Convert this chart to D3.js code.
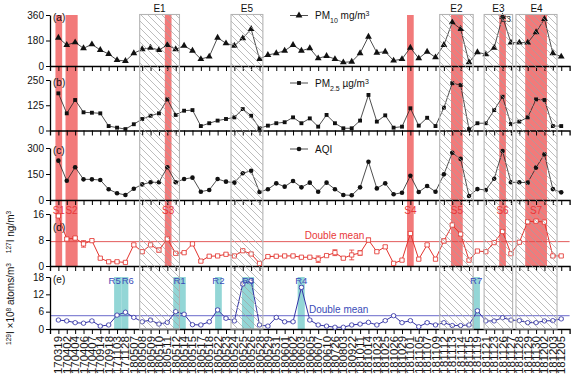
<!doctype html>
<html lang="en">
<head>
  <meta charset="UTF-8">
  <title>PM, AQI and iodine isotopes</title>
  <script src="https://d3js.org/d3.v7.min.js"></script>
  <style>
    body { margin: 0; background: #fff; }
    text { font-family: "Liberation Sans", Arial, sans-serif; }
  </style>
</head>
<body>
  <div id="myDiv"></div>
  <script type="text/javascript">
    // sampling dates (category axis)
    var dates = ["170319","170402","170404","170406","170407","170914","170918","171103","171128","180507",
      "180508","180509","180510","180511","180512","180514","180515","180517","180518","180522",
      "180523","180524","180525","180526","180528","180529","180531","180601","180602","180603",
      "180605","180607","180610","180726","180803","180922","181011","181014","181023","181025",
      "181026","181029","181101","181105","181107","181109","181112","181113","181114","181115",
      "181119","181121","181123","181126","181127","181128","181129","181130","181202","181203","181205"];

    var pm10 = [200,148,167,125,153,113,85,42,35,90,118,129,113,148,118,143,108,49,66,200,
      160,143,195,261,49,78,90,108,148,108,125,54,71,49,26,30,90,207,94,101,
      38,49,129,54,101,61,148,308,261,26,97,83,129,348,165,165,165,238,332,90,66];
    var pm25 = [184,85,151,90,88,85,22,14,7,31,57,73,85,154,77,98,101,22,36,49,
      57,65,106,73,11,24,36,41,65,36,60,19,77,36,11,11,49,176,44,75,
      14,19,110,24,63,22,113,234,225,7,36,36,101,167,32,44,65,154,151,22,22];
    var aqi = [227,111,189,119,119,115,62,39,29,65,90,102,102,189,102,121,129,48,58,121,
      106,100,154,169,46,62,96,77,110,73,100,48,100,62,29,27,73,221,67,96,
      33,42,140,46,81,48,148,273,237,23,63,58,123,283,102,102,100,187,264,63,44];
    var i127 = [15.4,8.3,8.6,6.8,7.8,2.4,1.3,1.3,1.1,6.5,4.4,6.5,4.9,8.3,3.9,4.1,6.8,1.5,3.0,3.1,
      3.6,3.1,4.7,3.7,0.8,2.9,3.0,3.1,3.1,2.7,2.7,2.1,3.2,4.1,2.4,3.4,4.0,8.0,4.4,5.9,
      0.8,1.8,10.0,2.1,6.5,2.1,7.7,12.6,9.8,1.8,4.6,4.4,7.2,10.6,3.8,7.3,13.6,13.8,13.5,3.1,3.1];
    var err127 = [0.4,0.4,0.4,1.0,0.4,0.3,0.3,0.3,0.3,0.4,0.4,0.3,0.6,0.4,0.3,0.3,0.4,0.3,0.3,0.3,
      0.3,0.3,0.4,0.3,0.3,0.3,0.3,0.3,0.3,0.3,0.3,1.0,0.3,0.9,0.3,1.5,0.7,0.6,0.3,0.4,
      0.3,0.3,0.5,0.3,0.4,0.3,0.6,0.5,0.4,0.3,0.3,0.3,0.4,0.5,0.3,0.4,0.4,0.4,0.4,0.3,0.3];
    var i129 = [3.1,2.8,2.2,2.0,2.8,1.0,1.4,4.8,5.8,4.0,2.5,3.1,1.7,2.3,6.0,5.1,1.5,1.4,2.5,6.6,
      3.7,2.8,15.6,16.7,1.4,1.0,4.0,2.5,2.5,14.4,3.1,1.4,1.0,0.6,0.6,1.4,1.7,2.3,1.4,2.9,
      4.6,2.2,2.9,0.8,2.2,1.4,2.2,1.2,1.2,1.4,6.3,2.8,2.8,3.9,3.1,2.9,2.2,2.2,2.8,2.9,3.5];
    var err129 = [0.3,0.3,0.3,0.3,0.3,0.3,0.3,0.3,0.3,0.3,0.3,0.3,0.3,0.3,0.3,0.3,0.3,0.3,0.3,0.4,
      0.3,0.3,0.6,0.6,0.3,0.3,0.3,0.3,0.3,0.5,0.3,0.3,0.3,0.3,0.3,0.3,0.3,0.3,0.3,0.3,
      0.3,0.3,0.3,0.3,0.3,0.3,0.3,0.3,0.3,0.3,0.4,0.3,0.3,0.3,0.3,0.3,0.3,0.3,0.3,0.3,0.3];

    // double mean levels
    var mean127 = 7.5;
    var mean129 = 4.6;

    // event periods (hatched), spikes of 127I (red) and of 129I (cyan), in category index units
    var eLabels = ["E1","E5","E2","E3","E4"];
    var eRanges = [[9.7,14.45],[20.6,24.4],[45.5,49.5],[50.8,54.2],[54.6,59.5]];
    var sLabels = ["S1","S2","S3","S4","S5","S6","S7"];
    var sRanges = [[-0.35,0.45],[0.85,2.3],[12.7,13.5],[41.6,42.4],[46.85,48.25],[52.6,53.4],[55.7,58.3]];
    var rLabels = ["R5","R6","R1","R2","R3","R4","R7"];
    var rRanges = [[6.65,7.5],[7.5,8.35],[13.7,15.2],[18.7,19.5],[21.9,23.35],[28.55,29.4],[49.4,50.3]];

    var svg = d3.select("#myDiv").append("svg")
      .attr("width", 586)
      .attr("height", 374);

    // hatch pattern for the event boxes
    svg.append("defs").append("pattern")
      .attr("id", "hatch")
      .attr("patternUnits", "userSpaceOnUse")
      .attr("width", 7).attr("height", 7)
      .append("path")
        .attr("d", "M0,0L7,7M-1,6L1,8M6,-1L8,1")
        .attr("stroke", "#a0a0a0")
        .attr("stroke-width", 0.7);

    var x = d3.scaleLinear().domain([-1, dates.length]).range([50, 569.6]);

    var panels = [
      {id: "a", values: pm10, domain: [0, 360], range: [66, 15], ticks: [0, 180, 360], mark: "tri"},
      {id: "b", values: pm25, domain: [0, 250], range: [130.5, 80], ticks: [0, 125, 250], mark: "sq"},
      {id: "c", values: aqi, domain: [0, 300], range: [200, 148], ticks: [0, 150, 300], mark: "dot"},
      {id: "d", values: i127, err: err127, domain: [0, 16], range: [266, 214], ticks: [0, 8, 16], mark: "osq"},
      {id: "e", values: i129, err: err129, domain: [0, 18], range: [329, 277], ticks: [0, 6, 12, 18], mark: "ocirc"}
    ];
    panels.forEach(function(p) {
      p.y = d3.scaleLinear().domain(p.domain).range(p.range);
    });

    var red = "#f27a7a", cyan = "#93d6d6";
    var boxTop = 14.5, bottomD = 266, topE = 277, bottomE = 329;

    // red spike bands over panels a-d
    svg.append("g").selectAll("rect")
      .data(sRanges).enter().append("rect")
        .attr("x", function(d) { return x(d[0]); })
        .attr("width", function(d) { return x(d[1]) - x(d[0]); })
        .attr("y", 15).attr("height", bottomD - 15)
        .attr("fill", red);

    // cyan bands in panel e
    svg.append("g").selectAll("rect")
      .data(rRanges).enter().append("rect")
        .attr("x", function(d) { return x(d[0]); })
        .attr("width", function(d) { return x(d[1]) - x(d[0]); })
        .attr("y", topE).attr("height", bottomE - topE)
        .attr("fill", cyan);

    // double mean lines
    var pd = panels[3], pe = panels[4];
    svg.append("line")
      .attr("x1", 50).attr("x2", 569.6)
      .attr("y1", pd.y(mean127)).attr("y2", pd.y(mean127))
      .attr("stroke", "#e04848").attr("stroke-width", 0.9);
    svg.append("line")
      .attr("x1", 50).attr("x2", 569.6)
      .attr("y1", pe.y(mean129)).attr("y2", pe.y(mean129))
      .attr("stroke", "#5858c4").attr("stroke-width", 0.9);

    // axes for each panel
    panels.forEach(function(p, k) {
      var xAxis = d3.axisBottom(x)
        .tickValues(d3.range(dates.length))
        .tickSize(5).tickSizeOuter(5)
        .tickFormat(k == 4 ? function(i) { return dates[i]; } : "");
      var gx = svg.append("g")
        .attr("transform", "translate(0," + p.range[0] + ")")
        .call(xAxis);
      gx.select(".domain").attr("stroke-width", 1.3);
      if (k == 4) {
        gx.selectAll("text")
          .attr("transform", "rotate(-90)")
          .attr("x", -7).attr("y", 0).attr("dy", "0.35em")
          .attr("text-anchor", "end")
          .attr("font-size", 10)
          .attr("textLength", 38)
          .attr("lengthAdjust", "spacingAndGlyphs")
          .attr("fill", "#111");
      }
      var yAxis = d3.axisLeft(p.y).tickValues(p.ticks).tickSize(4).tickSizeOuter(0);
      var gy = svg.append("g")
        .attr("transform", "translate(50,0)")
        .call(yAxis);
      gy.select(".domain").attr("stroke-width", 1.3);
      gy.selectAll("text").attr("font-size", 10).attr("fill", "#111").attr("x", -6);
      gx.attr("font-family", null);
      gy.attr("font-family", null);

      svg.append("text")
        .attr("x", 53).attr("y", p.range[1] + (k == 3 ? 17 : 6))
        .attr("font-size", 10).attr("fill", "#111")
        .text("(" + p.id + ")");
    });

    // series lines and markers
    var lineColor = ["#222", "#222", "#222", "#e3342e", "#3434a6"];
    panels.forEach(function(p, k) {
      var line = d3.line()
        .x(function(d, i) { return x(i); })
        .y(function(d) { return p.y(d); });
      svg.append("path")
        .datum(p.values)
        .attr("d", line)
        .attr("fill", "none")
        .attr("stroke", lineColor[k])
        .attr("stroke-width", k > 2 ? 1 : 0.8);

      var g = svg.append("g");
      if (p.err) {
        g.selectAll(".eb").data(p.values).enter().append("path")
          .attr("d", function(d, i) {
            var cx = x(i), y0 = p.y(d - p.err[i]), y1 = p.y(d + p.err[i]);
            return "M" + cx + "," + y0 + "V" + y1 + "M" + (cx - 2.5) + "," + y0 + "H" + (cx + 2.5) +
              "M" + (cx - 2.5) + "," + y1 + "H" + (cx + 2.5);
          })
          .attr("fill", "none")
          .attr("stroke", lineColor[k])
          .attr("stroke-width", 0.8);
      }
      var pts = g.selectAll(".pt").data(p.values).enter();
      if (p.mark == "tri") {
        pts.append("path")
          .attr("d", d3.symbol(d3.symbolTriangle, 20))
          .attr("transform", function(d, i) { return "translate(" + x(i) + "," + p.y(d) + ")"; })
          .attr("fill", "#111");
      } else if (p.mark == "sq") {
        pts.append("path")
          .attr("d", d3.symbol(d3.symbolSquare, 15))
          .attr("transform", function(d, i) { return "translate(" + x(i) + "," + p.y(d) + ")"; })
          .attr("fill", "#111");
      } else if (p.mark == "dot") {
        pts.append("circle")
          .attr("cx", function(d, i) { return x(i); })
          .attr("cy", function(d) { return p.y(d); })
          .attr("r", 2.3)
          .attr("fill", "#111");
      } else if (p.mark == "osq") {
        pts.append("path")
          .attr("d", d3.symbol(d3.symbolSquare, 18))
          .attr("transform", function(d, i) { return "translate(" + x(i) + "," + p.y(d) + ")"; })
          .attr("fill", "#fff")
          .attr("stroke", lineColor[k])
          .attr("stroke-width", 0.8);
      } else {
        pts.append("circle")
          .attr("cx", function(d, i) { return x(i); })
          .attr("cy", function(d) { return p.y(d); })
          .attr("r", 2.2)
          .attr("fill", "#fff")
          .attr("stroke", lineColor[k])
          .attr("stroke-width", 0.8);
      }
    });

    // hatched event boxes on top
    svg.append("g").selectAll("rect")
      .data(eRanges).enter().append("rect")
        .attr("x", function(d) { return x(d[0]); })
        .attr("width", function(d) { return x(d[1]) - x(d[0]); })
        .attr("y", boxTop).attr("height", bottomE - boxTop)
        .attr("fill", "url(#hatch)")
        .attr("stroke", "#b4b4b4")
        .attr("stroke-width", 1.1);

    // event labels
    svg.append("g").selectAll("text")
      .data(eRanges).enter().append("text")
        .attr("x", function(d) { return x((d[0] + d[1]) / 2); })
        .attr("y", 12)
        .attr("text-anchor", "middle")
        .attr("font-size", 10).attr("fill", "#111")
        .text(function(d, i) { return eLabels[i]; });
    svg.append("text")
      .attr("x", x(53.4)).attr("y", 22)
      .attr("text-anchor", "middle")
      .attr("font-size", 8.5).attr("fill", "#333")
      .text("E3");

    svg.append("g").selectAll("text")
      .data(sRanges).enter().append("text")
        .attr("x", function(d) { return x((d[0] + d[1]) / 2); })
        .attr("y", 214)
        .attr("text-anchor", "middle")
        .attr("font-size", 10).attr("fill", "#e8383a")
        .text(function(d, i) { return sLabels[i]; });

    // R5 and R6 sit side by side, so anchor them on their shared edge
    svg.append("g").selectAll("text")
      .data(rRanges).enter().append("text")
        .attr("x", function(d, i) {
          if (i == 0) return x(d[1]) - 0.5;
          if (i == 1) return x(d[0]) + 0.5;
          return x((d[0] + d[1]) / 2);
        })
        .attr("y", 284)
        .attr("text-anchor", function(d, i) { return i == 0 ? "end" : (i == 1 ? "start" : "middle"); })
        .attr("font-size", 9.5).attr("fill", "#3a4cb8")
        .text(function(d, i) { return rLabels[i]; });

    svg.append("text")
      .attr("x", x(29.4)).attr("y", pd.y(mean127) - 2.5)
      .attr("font-size", 10).attr("fill", "#e8383a")
      .text("Double mean");
    svg.append("text")
      .attr("x", x(29.9)).attr("y", pe.y(mean129) - 2.5)
      .attr("font-size", 10).attr("fill", "#3a4cb8")
      .text("Double mean");

    // legends
    function legend(yy, mark, parts) {
      var g = svg.append("g");
      g.append("line").attr("x1", 290).attr("x2", 308).attr("y1", yy).attr("y2", yy)
        .attr("stroke", "#222").attr("stroke-width", 0.8);
      if (mark == "tri") {
        g.append("path").attr("d", d3.symbol(d3.symbolTriangle, 20))
          .attr("transform", "translate(299," + yy + ")").attr("fill", "#111");
      } else if (mark == "sq") {
        g.append("path").attr("d", d3.symbol(d3.symbolSquare, 15))
          .attr("transform", "translate(299," + yy + ")").attr("fill", "#111");
      } else {
        g.append("circle").attr("cx", 299).attr("cy", yy).attr("r", 2.3).attr("fill", "#111");
      }
      var t = g.append("text").attr("x", 315).attr("y", yy + 3.5)
        .attr("font-size", 10).attr("fill", "#111");
      parts.forEach(function(s) {
        var ts = t.append("tspan").text(s[0]);
        if (s[1]) ts.attr("font-size", 7).attr("baseline-shift", s[1]);
      });
    }
    legend(15.5, "tri", [["PM"], ["10", "sub"], [" mg/m"], ["3", "super"]]);
    legend(83, "sq", [["PM"], ["2.5", "sub"], [" \u00b5g/m"], ["3", "super"]]);
    legend(149, "dot", [["AQI"]]);

    // rotated y titles for iodine panels
    var t1 = svg.append("text")
      .attr("transform", "translate(14,232) rotate(-90)")
      .attr("text-anchor", "middle")
      .attr("font-size", 10).attr("fill", "#111");
    t1.append("tspan").attr("font-size", 6.5).attr("baseline-shift", "super").text("127");
    t1.append("tspan").text("I ng/m");
    t1.append("tspan").attr("font-size", 6.5).attr("baseline-shift", "super").text("3");

    var t2 = svg.append("text")
      .attr("transform", "translate(14,304) rotate(-90)")
      .attr("text-anchor", "middle")
      .attr("font-size", 10).attr("fill", "#111");
    t2.append("tspan").attr("font-size", 6.5).attr("baseline-shift", "super").text("129");
    t2.append("tspan").text("I \u00d710");
    t2.append("tspan").attr("font-size", 6.5).attr("baseline-shift", "super").text("8");
    t2.append("tspan").text(" atoms/m");
    t2.append("tspan").attr("font-size", 6.5).attr("baseline-shift", "super").text("3");
  </script>
</body>
</html>
